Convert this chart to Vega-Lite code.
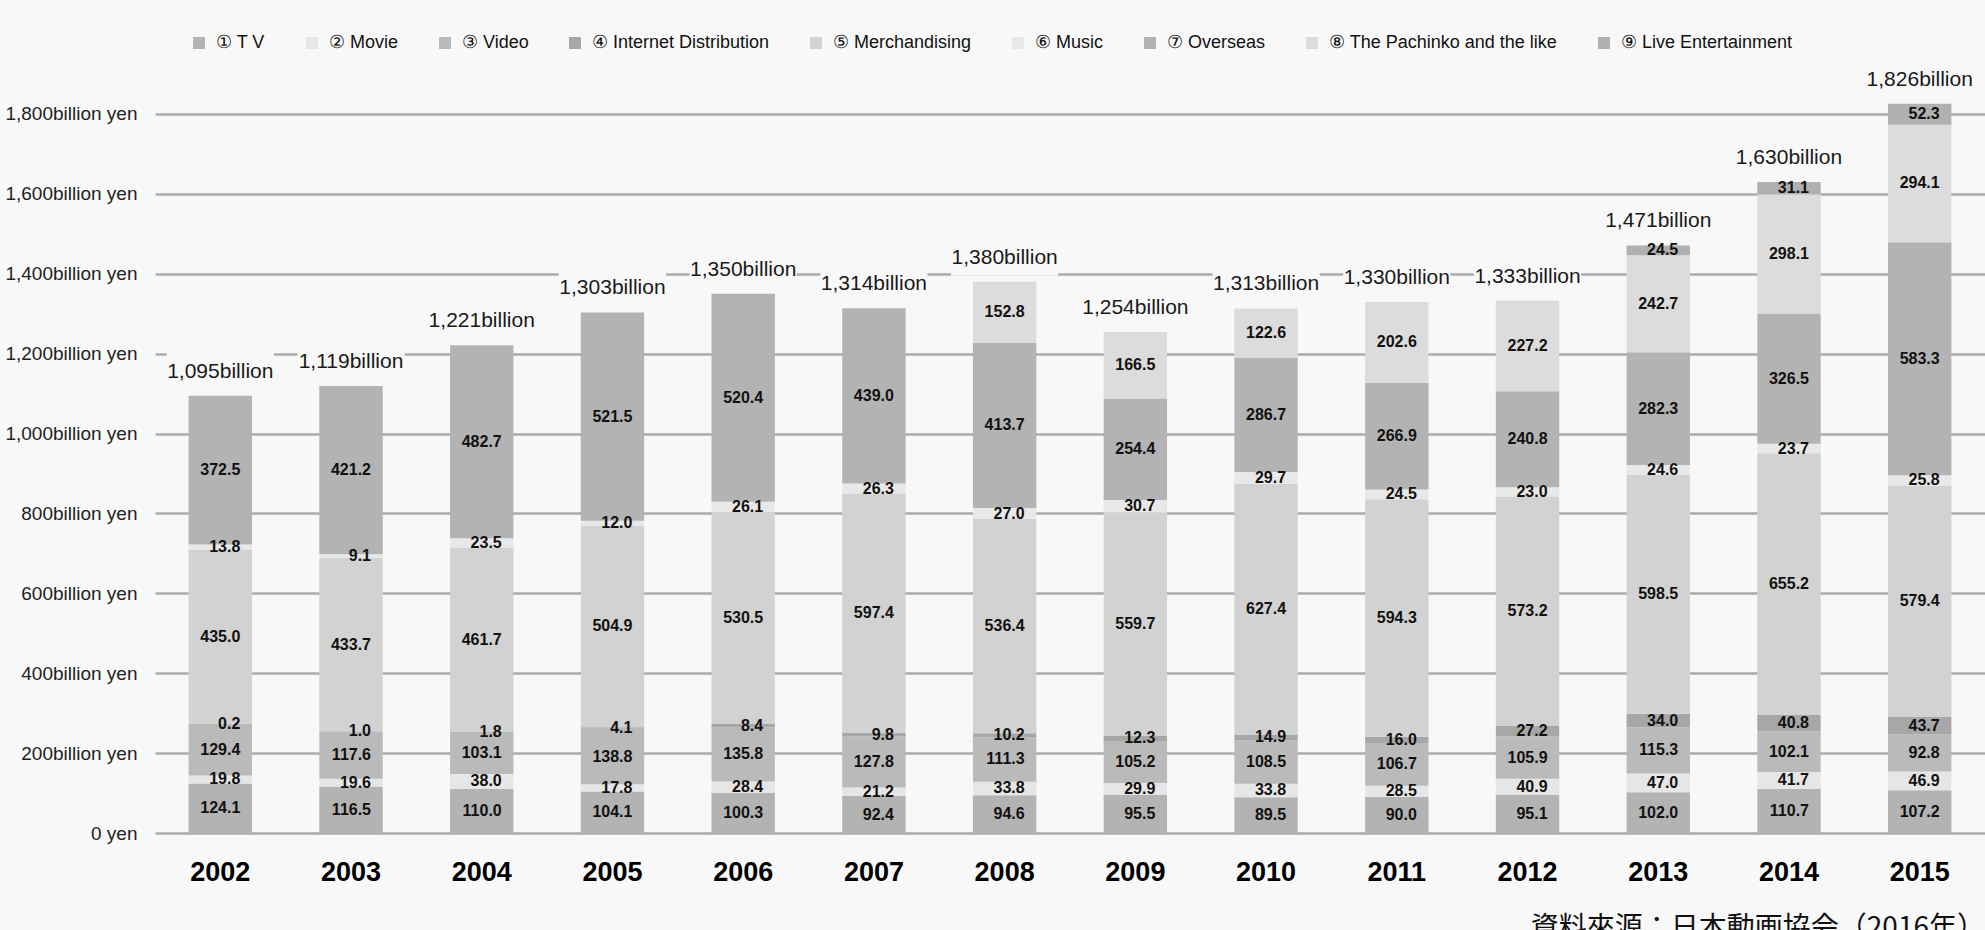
{
  "$schema": "https://vega.github.io/schema/vega-lite/v6.json",
  "width": 1830,
  "height": 759,
  "autosize": {"type": "none"},
  "padding": {"left": 155, "top": 74, "right": 0, "bottom": 97},
  "background": "#f8f8f8",
  "title": {
    "text": "資料來源：日本動画協会（2016年）",
    "orient": "bottom",
    "anchor": "end",
    "font": "Noto Sans CJK JP",
    "fontSize": 28,
    "fontWeight": "normal",
    "color": "#111111",
    "offset": 30
  },
  "datasets": {
    "segments": [
      {"year": "2002", "k": 1, "category": "① T V", "value": 124.1},
      {"year": "2002", "k": 2, "category": "② Movie", "value": 19.8},
      {"year": "2002", "k": 3, "category": "③ Video", "value": 129.4},
      {"year": "2002", "k": 4, "category": "④ Internet Distribution", "value": 0.2},
      {"year": "2002", "k": 5, "category": "⑤ Merchandising", "value": 435.0},
      {"year": "2002", "k": 6, "category": "⑥ Music", "value": 13.8},
      {"year": "2002", "k": 7, "category": "⑦ Overseas", "value": 372.5},
      {"year": "2003", "k": 1, "category": "① T V", "value": 116.5},
      {"year": "2003", "k": 2, "category": "② Movie", "value": 19.6},
      {"year": "2003", "k": 3, "category": "③ Video", "value": 117.6},
      {"year": "2003", "k": 4, "category": "④ Internet Distribution", "value": 1.0},
      {"year": "2003", "k": 5, "category": "⑤ Merchandising", "value": 433.7},
      {"year": "2003", "k": 6, "category": "⑥ Music", "value": 9.1},
      {"year": "2003", "k": 7, "category": "⑦ Overseas", "value": 421.2},
      {"year": "2004", "k": 1, "category": "① T V", "value": 110.0},
      {"year": "2004", "k": 2, "category": "② Movie", "value": 38.0},
      {"year": "2004", "k": 3, "category": "③ Video", "value": 103.1},
      {"year": "2004", "k": 4, "category": "④ Internet Distribution", "value": 1.8},
      {"year": "2004", "k": 5, "category": "⑤ Merchandising", "value": 461.7},
      {"year": "2004", "k": 6, "category": "⑥ Music", "value": 23.5},
      {"year": "2004", "k": 7, "category": "⑦ Overseas", "value": 482.7},
      {"year": "2005", "k": 1, "category": "① T V", "value": 104.1},
      {"year": "2005", "k": 2, "category": "② Movie", "value": 17.8},
      {"year": "2005", "k": 3, "category": "③ Video", "value": 138.8},
      {"year": "2005", "k": 4, "category": "④ Internet Distribution", "value": 4.1},
      {"year": "2005", "k": 5, "category": "⑤ Merchandising", "value": 504.9},
      {"year": "2005", "k": 6, "category": "⑥ Music", "value": 12.0},
      {"year": "2005", "k": 7, "category": "⑦ Overseas", "value": 521.5},
      {"year": "2006", "k": 1, "category": "① T V", "value": 100.3},
      {"year": "2006", "k": 2, "category": "② Movie", "value": 28.4},
      {"year": "2006", "k": 3, "category": "③ Video", "value": 135.8},
      {"year": "2006", "k": 4, "category": "④ Internet Distribution", "value": 8.4},
      {"year": "2006", "k": 5, "category": "⑤ Merchandising", "value": 530.5},
      {"year": "2006", "k": 6, "category": "⑥ Music", "value": 26.1},
      {"year": "2006", "k": 7, "category": "⑦ Overseas", "value": 520.4},
      {"year": "2007", "k": 1, "category": "① T V", "value": 92.4},
      {"year": "2007", "k": 2, "category": "② Movie", "value": 21.2},
      {"year": "2007", "k": 3, "category": "③ Video", "value": 127.8},
      {"year": "2007", "k": 4, "category": "④ Internet Distribution", "value": 9.8},
      {"year": "2007", "k": 5, "category": "⑤ Merchandising", "value": 597.4},
      {"year": "2007", "k": 6, "category": "⑥ Music", "value": 26.3},
      {"year": "2007", "k": 7, "category": "⑦ Overseas", "value": 439.0},
      {"year": "2008", "k": 1, "category": "① T V", "value": 94.6},
      {"year": "2008", "k": 2, "category": "② Movie", "value": 33.8},
      {"year": "2008", "k": 3, "category": "③ Video", "value": 111.3},
      {"year": "2008", "k": 4, "category": "④ Internet Distribution", "value": 10.2},
      {"year": "2008", "k": 5, "category": "⑤ Merchandising", "value": 536.4},
      {"year": "2008", "k": 6, "category": "⑥ Music", "value": 27.0},
      {"year": "2008", "k": 7, "category": "⑦ Overseas", "value": 413.7},
      {"year": "2008", "k": 8, "category": "⑧ The Pachinko and the like", "value": 152.8},
      {"year": "2009", "k": 1, "category": "① T V", "value": 95.5},
      {"year": "2009", "k": 2, "category": "② Movie", "value": 29.9},
      {"year": "2009", "k": 3, "category": "③ Video", "value": 105.2},
      {"year": "2009", "k": 4, "category": "④ Internet Distribution", "value": 12.3},
      {"year": "2009", "k": 5, "category": "⑤ Merchandising", "value": 559.7},
      {"year": "2009", "k": 6, "category": "⑥ Music", "value": 30.7},
      {"year": "2009", "k": 7, "category": "⑦ Overseas", "value": 254.4},
      {"year": "2009", "k": 8, "category": "⑧ The Pachinko and the like", "value": 166.5},
      {"year": "2010", "k": 1, "category": "① T V", "value": 89.5},
      {"year": "2010", "k": 2, "category": "② Movie", "value": 33.8},
      {"year": "2010", "k": 3, "category": "③ Video", "value": 108.5},
      {"year": "2010", "k": 4, "category": "④ Internet Distribution", "value": 14.9},
      {"year": "2010", "k": 5, "category": "⑤ Merchandising", "value": 627.4},
      {"year": "2010", "k": 6, "category": "⑥ Music", "value": 29.7},
      {"year": "2010", "k": 7, "category": "⑦ Overseas", "value": 286.7},
      {"year": "2010", "k": 8, "category": "⑧ The Pachinko and the like", "value": 122.6},
      {"year": "2011", "k": 1, "category": "① T V", "value": 90.0},
      {"year": "2011", "k": 2, "category": "② Movie", "value": 28.5},
      {"year": "2011", "k": 3, "category": "③ Video", "value": 106.7},
      {"year": "2011", "k": 4, "category": "④ Internet Distribution", "value": 16.0},
      {"year": "2011", "k": 5, "category": "⑤ Merchandising", "value": 594.3},
      {"year": "2011", "k": 6, "category": "⑥ Music", "value": 24.5},
      {"year": "2011", "k": 7, "category": "⑦ Overseas", "value": 266.9},
      {"year": "2011", "k": 8, "category": "⑧ The Pachinko and the like", "value": 202.6},
      {"year": "2012", "k": 1, "category": "① T V", "value": 95.1},
      {"year": "2012", "k": 2, "category": "② Movie", "value": 40.9},
      {"year": "2012", "k": 3, "category": "③ Video", "value": 105.9},
      {"year": "2012", "k": 4, "category": "④ Internet Distribution", "value": 27.2},
      {"year": "2012", "k": 5, "category": "⑤ Merchandising", "value": 573.2},
      {"year": "2012", "k": 6, "category": "⑥ Music", "value": 23.0},
      {"year": "2012", "k": 7, "category": "⑦ Overseas", "value": 240.8},
      {"year": "2012", "k": 8, "category": "⑧ The Pachinko and the like", "value": 227.2},
      {"year": "2013", "k": 1, "category": "① T V", "value": 102.0},
      {"year": "2013", "k": 2, "category": "② Movie", "value": 47.0},
      {"year": "2013", "k": 3, "category": "③ Video", "value": 115.3},
      {"year": "2013", "k": 4, "category": "④ Internet Distribution", "value": 34.0},
      {"year": "2013", "k": 5, "category": "⑤ Merchandising", "value": 598.5},
      {"year": "2013", "k": 6, "category": "⑥ Music", "value": 24.6},
      {"year": "2013", "k": 7, "category": "⑦ Overseas", "value": 282.3},
      {"year": "2013", "k": 8, "category": "⑧ The Pachinko and the like", "value": 242.7},
      {"year": "2013", "k": 9, "category": "⑨ Live Entertainment", "value": 24.5},
      {"year": "2014", "k": 1, "category": "① T V", "value": 110.7},
      {"year": "2014", "k": 2, "category": "② Movie", "value": 41.7},
      {"year": "2014", "k": 3, "category": "③ Video", "value": 102.1},
      {"year": "2014", "k": 4, "category": "④ Internet Distribution", "value": 40.8},
      {"year": "2014", "k": 5, "category": "⑤ Merchandising", "value": 655.2},
      {"year": "2014", "k": 6, "category": "⑥ Music", "value": 23.7},
      {"year": "2014", "k": 7, "category": "⑦ Overseas", "value": 326.5},
      {"year": "2014", "k": 8, "category": "⑧ The Pachinko and the like", "value": 298.1},
      {"year": "2014", "k": 9, "category": "⑨ Live Entertainment", "value": 31.1},
      {"year": "2015", "k": 1, "category": "① T V", "value": 107.2},
      {"year": "2015", "k": 2, "category": "② Movie", "value": 46.9},
      {"year": "2015", "k": 3, "category": "③ Video", "value": 92.8},
      {"year": "2015", "k": 4, "category": "④ Internet Distribution", "value": 43.7},
      {"year": "2015", "k": 5, "category": "⑤ Merchandising", "value": 579.4},
      {"year": "2015", "k": 6, "category": "⑥ Music", "value": 25.8},
      {"year": "2015", "k": 7, "category": "⑦ Overseas", "value": 583.3},
      {"year": "2015", "k": 8, "category": "⑧ The Pachinko and the like", "value": 294.1},
      {"year": "2015", "k": 9, "category": "⑨ Live Entertainment", "value": 52.3}
    ],
    "totals": [
      {"year": "2002", "total": 1095, "label": "1,095billion"},
      {"year": "2003", "total": 1119, "label": "1,119billion"},
      {"year": "2004", "total": 1221, "label": "1,221billion"},
      {"year": "2005", "total": 1303, "label": "1,303billion"},
      {"year": "2006", "total": 1350, "label": "1,350billion"},
      {"year": "2007", "total": 1314, "label": "1,314billion"},
      {"year": "2008", "total": 1380, "label": "1,380billion"},
      {"year": "2009", "total": 1254, "label": "1,254billion"},
      {"year": "2010", "total": 1313, "label": "1,313billion"},
      {"year": "2011", "total": 1330, "label": "1,330billion"},
      {"year": "2012", "total": 1333, "label": "1,333billion"},
      {"year": "2013", "total": 1471, "label": "1,471billion"},
      {"year": "2014", "total": 1630, "label": "1,630billion"},
      {"year": "2015", "total": 1826, "label": "1,826billion"}
    ]
  },
  "layer": [
    {
      "data": {"name": "totals"},
      "mark": {"type": "bar", "color": "#f8f8f8", "width": {"band": 1.69}, "yOffset": -46, "y2Offset": -6},
      "encoding": {
        "x": {"field": "year", "type": "ordinal", "title": null, "scale": {"paddingInner": 0.515, "paddingOuter": 0.257}},
        "y": {"field": "total", "type": "quantitative", "title": null, "scale": {"domain": [0, 1900], "nice": false, "zero": true},
          "axis": {"values": [0, 200, 400, 600, 800, 1000, 1200, 1400, 1600, 1800], "labelExpr": "datum.value === 0 ? '0 yen' : format(datum.value, ',') + 'billion yen'"}},
        "y2": {"field": "total"}
      }
    },
    {
      "data": {"name": "segments"},
      "mark": {"type": "bar"},
      "encoding": {
        "x": {"field": "year", "type": "ordinal", "title": null},
        "y": {"field": "value", "type": "quantitative", "title": null, "stack": "zero",
          "axis": {"values": [0, 200, 400, 600, 800, 1000, 1200, 1400, 1600, 1800], "labelExpr": "datum.value === 0 ? '0 yen' : format(datum.value, ',') + 'billion yen'"}},
        "color": {
          "field": "category", "type": "nominal",
          "scale": {
            "domain": ["① T V", "② Movie", "③ Video", "④ Internet Distribution", "⑤ Merchandising", "⑥ Music", "⑦ Overseas", "⑧ The Pachinko and the like", "⑨ Live Entertainment"],
            "range": ["#b3b3b3", "#e6e6e6", "#bababa", "#a7a7a7", "#d2d2d2", "#e8e8e8", "#b3b3b3", "#dcdcdc", "#b0b0b0"]
          },
          "legend": {
            "title": null, "orient": "none", "direction": "horizontal", "columns": 9,
            "legendX": 35, "legendY": -40,
            "symbolType": "square", "symbolSize": 144, "symbolStrokeWidth": 0, "symbolOpacity": 1,
            "labelFont": "Liberation Sans, sans-serif",
            "labelFontSize": 18, "labelColor": "#111111", "labelOffset": 8, "columnPadding": 37, "labelLimit": 400
          }
        },
        "order": {"field": "k", "type": "quantitative", "sort": "ascending"}
      }
    },
    {
      "data": {"name": "segments"},
      "mark": {"type": "text", "align": "right", "dx": 20, "baseline": "middle", "font": "Liberation Sans, sans-serif", "fontWeight": "bold", "fontSize": 16, "color": "#111111"},
      "encoding": {
        "x": {"field": "year", "type": "ordinal", "title": null},
        "y": {"field": "value", "type": "quantitative", "title": null, "stack": "zero", "bandPosition": 0.5},
        "detail": {"field": "category"},
        "order": {"field": "k", "type": "quantitative", "sort": "ascending"},
        "text": {"field": "value", "type": "quantitative", "format": ".1f"}
      }
    },
    {
      "data": {"name": "totals"},
      "mark": {"type": "text", "align": "center", "baseline": "middle", "dy": -24, "font": "Liberation Sans, sans-serif", "fontSize": 21, "color": "#1a1a1a"},
      "encoding": {
        "x": {"field": "year", "type": "ordinal", "title": null},
        "y": {"field": "total", "type": "quantitative", "title": null},
        "text": {"field": "label"}
      }
    }
  ],
  "config": {
    "view": {"stroke": null},
    "axis": {"domain": false, "ticks": false, "tickSize": 0},
    "axisY": {
      "grid": true, "gridColor": "#ababab", "gridWidth": 2.5,
      "labelFont": "Liberation Sans, sans-serif",
      "labelFontSize": 19, "labelColor": "#222222", "labelPadding": 18
    },
    "axisX": {
      "grid": false, "labelAngle": 0,
      "labelFont": "Liberation Sans, sans-serif",
      "labelFontSize": 27, "labelFontWeight": "bold", "labelColor": "#000000",
      "labelBaseline": "middle", "labelPadding": 39
    }
  }
}
